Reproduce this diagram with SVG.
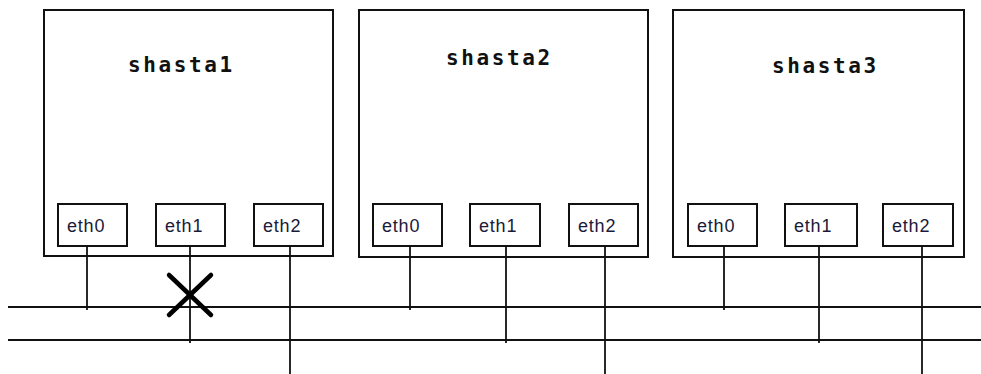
<svg xmlns="http://www.w3.org/2000/svg" width="981" height="374" viewBox="0 0 981 374">
<style>
.host{fill:#fff;stroke:#111;stroke-width:2}
.nic{fill:#fff;stroke:#111;stroke-width:2}
.title{font-family:"DejaVu Sans Mono","Liberation Mono",monospace;font-weight:bold;font-size:21px;letter-spacing:2.6px;fill:#111}
.lbl{font-family:"Liberation Sans",Arial,sans-serif;font-size:18px;letter-spacing:0.8px;fill:#1a1a3a}
.wire{stroke:#111;stroke-width:1.8;fill:none}
.x{stroke:#000;stroke-width:4.5;stroke-linecap:round}
</style>
<rect width="981" height="374" fill="#fff"/>
<g id="shasta1">
<rect class="host" x="44" y="10" width="289" height="246"/>
<text class="title" x="128" y="72">shasta1</text>
<g id="shasta1-eth0"><rect class="nic" x="58" y="204" width="69" height="42"/><text class="lbl" x="67" y="232">eth0</text></g>
<g id="shasta1-eth1"><rect class="nic" x="156" y="204" width="69" height="42"/><text class="lbl" x="165" y="232">eth1</text></g>
<g id="shasta1-eth2"><rect class="nic" x="254" y="204" width="69" height="42"/><text class="lbl" x="263" y="232">eth2</text></g>
</g>
<g id="shasta2">
<rect class="host" x="359" y="10" width="289" height="247"/>
<text class="title" x="446" y="65">shasta2</text>
<g id="shasta2-eth0"><rect class="nic" x="373" y="204" width="69" height="42"/><text class="lbl" x="382" y="232">eth0</text></g>
<g id="shasta2-eth1"><rect class="nic" x="470" y="204" width="70" height="42"/><text class="lbl" x="479" y="232">eth1</text></g>
<g id="shasta2-eth2"><rect class="nic" x="569" y="204" width="69" height="42"/><text class="lbl" x="578" y="232">eth2</text></g>
</g>
<g id="shasta3">
<rect class="host" x="673" y="10" width="291" height="247"/>
<text class="title" x="772" y="73">shasta3</text>
<g id="shasta3-eth0"><rect class="nic" x="688" y="204" width="69" height="42"/><text class="lbl" x="697" y="232">eth0</text></g>
<g id="shasta3-eth1"><rect class="nic" x="785" y="204" width="72" height="42"/><text class="lbl" x="794" y="232">eth1</text></g>
<g id="shasta3-eth2"><rect class="nic" x="883" y="204" width="70" height="42"/><text class="lbl" x="892" y="232">eth2</text></g>
</g>
<g id="connectors">
<line class="wire" x1="8" y1="307" x2="981" y2="307"/>
<line class="wire" x1="8" y1="340" x2="981" y2="340"/>
<line class="wire" x1="87" y1="246" x2="87" y2="310"/>
<line class="wire" x1="190" y1="246" x2="190" y2="343"/>
<line class="wire" x1="290" y1="246" x2="290" y2="374"/>
<line class="wire" x1="410" y1="246" x2="410" y2="310"/>
<line class="wire" x1="506" y1="246" x2="506" y2="343"/>
<line class="wire" x1="605" y1="246" x2="605" y2="374"/>
<line class="wire" x1="724" y1="246" x2="724" y2="310"/>
<line class="wire" x1="819" y1="246" x2="819" y2="343"/>
<line class="wire" x1="922" y1="246" x2="922" y2="374"/>
<g id="fault">
<line class="x" x1="169" y1="275" x2="211" y2="315"/>
<line class="x" x1="211" y1="275" x2="169" y2="315"/>
</g>
</g>
</svg>
